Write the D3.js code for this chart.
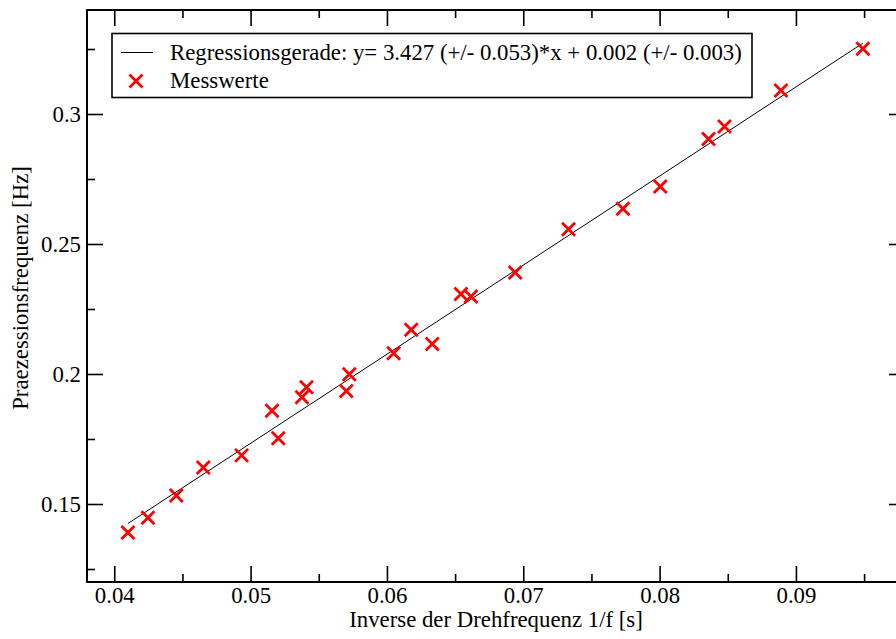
<!DOCTYPE html>
<html>
<head>
<meta charset="utf-8">
<script src="https://cdn.jsdelivr.net/npm/d3@7"></script>
<style>
    body { margin: 0; background: #fff; }
</style>
</head>
<body>
<script>
(function () {

    // Messwerte: inverse Drehfrequenz 1/f [s] und Praezessionsfrequenz [Hz]
    var messX = [0.04100, 0.04247, 0.04455, 0.04653, 0.04934, 0.05157, 0.05203, 0.05377,
        0.05410, 0.05702, 0.05724, 0.06049, 0.06178, 0.06332, 0.06543, 0.06616,
        0.06941, 0.07332, 0.07731, 0.08005, 0.08359, 0.08476, 0.08890, 0.09491];
    var messY = [0.1390, 0.1447, 0.1533, 0.1640, 0.1687, 0.1859, 0.1753, 0.1911,
        0.1949, 0.1935, 0.1999, 0.2080, 0.2170, 0.2115, 0.2308, 0.2298,
        0.2390, 0.2557, 0.2636, 0.2721, 0.2904, 0.2952, 0.3090, 0.3251];

    // Regressionsgerade (Endpunkte)
    var fitX = [0.0410, 0.0949];
    var fitY = [0.1425, 0.3272];

    var xMajor = [0.04, 0.05, 0.06, 0.07, 0.08, 0.09];
    var xMinor = [0.045, 0.055, 0.065, 0.075, 0.085, 0.095];
    var yMajor = [0.15, 0.2, 0.25, 0.3];
    var yMinor = [0.125, 0.175, 0.225, 0.275, 0.325];

    var legendLabels = ["Regressionsgerade: y= 3.427 (+/- 0.053)*x + 0.002 (+/- 0.003)", "Messwerte"];
    var xTitle = "Inverse der Drehfrequenz 1/f [s]";
    var yTitle = "Praezessionsfrequenz [Hz]";

    var width = 896,
        height = 639,
        left = 87,
        right = 905,
        top = 10,
        bottom = 582,
        fontSize = 22.8,
        serif = "'Liberation Serif', 'DejaVu Serif', serif";

    var svg = d3.select("body")
        .append("svg")
        .attr("width", width)
        .attr("height", height)
        .attr("font-family", serif);

    var x = d3.scaleLinear()
        .domain([0.038, 0.098])
        .range([left, right]);

    var y = d3.scaleLinear()
        .domain([0.12, 0.34])
        .range([bottom, top]);

    var fmt = function (d) { return String(+d.toFixed(3)); };

    // axes: ticks inward on all four sides
    function addAxis(axisFn, scale, pos, transform, labels, pad) {
        var g1 = svg.append("g")
            .attr("transform", transform)
            .call(axisFn(scale).tickValues(pos.major).tickSize(-16).tickPadding(labels ? pad : 0)
                .tickFormat(labels ? fmt : ""));
        var g2 = svg.append("g")
            .attr("transform", transform)
            .call(axisFn(scale).tickValues(pos.minor).tickSize(-8).tickFormat(""));
        [g1, g2].forEach(function (g) {
            g.attr("font-family", serif).attr("font-size", fontSize);
            g.select(".domain").remove();
            g.selectAll("line").attr("stroke", "#000").attr("stroke-width", 1.6);
            g.selectAll("text").attr("fill", "#000");
        });
        return g1;
    }

    addAxis(d3.axisBottom, x, { major: xMajor, minor: xMinor }, "translate(0," + bottom + ")", true, 5);
    addAxis(d3.axisTop, x, { major: xMajor, minor: xMinor }, "translate(0," + top + ")", false, 0);
    addAxis(d3.axisLeft, y, { major: yMajor, minor: yMinor }, "translate(" + left + ",0)", true, 6);
    addAxis(d3.axisRight, y, { major: yMajor, minor: yMinor }, "translate(" + right + ",0)", false, 0);

    // frame
    svg.append("rect")
        .attr("x", left)
        .attr("y", top)
        .attr("width", right - left)
        .attr("height", bottom - top)
        .attr("fill", "none")
        .attr("stroke", "#000")
        .attr("stroke-width", 2);

    // regression line
    var line = d3.line()
        .x(function (d) { return x(d[0]); })
        .y(function (d) { return y(d[1]); });

    svg.append("path")
        .datum(d3.zip(fitX, fitY))
        .attr("d", line)
        .attr("fill", "none")
        .attr("stroke", "#000")
        .attr("stroke-width", 1);

    // markers
    var cross = function (s) {
        return "M" + (-s) + "," + (-s) + "L" + s + "," + s + "M" + (-s) + "," + s + "L" + s + "," + (-s);
    };

    svg.selectAll(".mess")
        .data(d3.zip(messX, messY))
        .enter()
        .append("path")
        .attr("class", "mess")
        .attr("transform", function (d) { return "translate(" + x(d[0]) + "," + y(d[1]) + ")"; })
        .attr("d", cross(6.5))
        .attr("stroke", "#ff0000")
        .attr("stroke-width", 2.8)
        .attr("fill", "none");

    // legend
    var legend = svg.append("g").attr("class", "legend");

    legend.append("rect")
        .attr("x", 112)
        .attr("y", 33.5)
        .attr("width", 640)
        .attr("height", 64)
        .attr("fill", "#fff")
        .attr("stroke", "#000")
        .attr("stroke-width", 1.6);

    legend.append("line")
        .attr("x1", 121).attr("x2", 153)
        .attr("y1", 52.5).attr("y2", 52.5)
        .attr("stroke", "#000")
        .attr("stroke-width", 1);

    legend.append("path")
        .attr("transform", "translate(136,81)")
        .attr("d", cross(6.5))
        .attr("stroke", "#ff0000")
        .attr("stroke-width", 2.8);

    legend.selectAll(".legtext")
        .data(legendLabels)
        .enter()
        .append("text")
        .attr("class", "legtext")
        .attr("x", 170)
        .attr("y", function (d, i) { return 60 + i * 28; })
        .attr("font-size", fontSize)
        .text(function (d) { return d; });

    // axis titles
    svg.append("text")
        .attr("x", 496)
        .attr("y", 627)
        .attr("text-anchor", "middle")
        .attr("font-size", fontSize)
        .text(xTitle);

    svg.append("text")
        .attr("transform", "translate(28,288) rotate(-90)")
        .attr("text-anchor", "middle")
        .attr("font-size", fontSize)
        .text(yTitle);

})();
</script>
</body>
</html>
